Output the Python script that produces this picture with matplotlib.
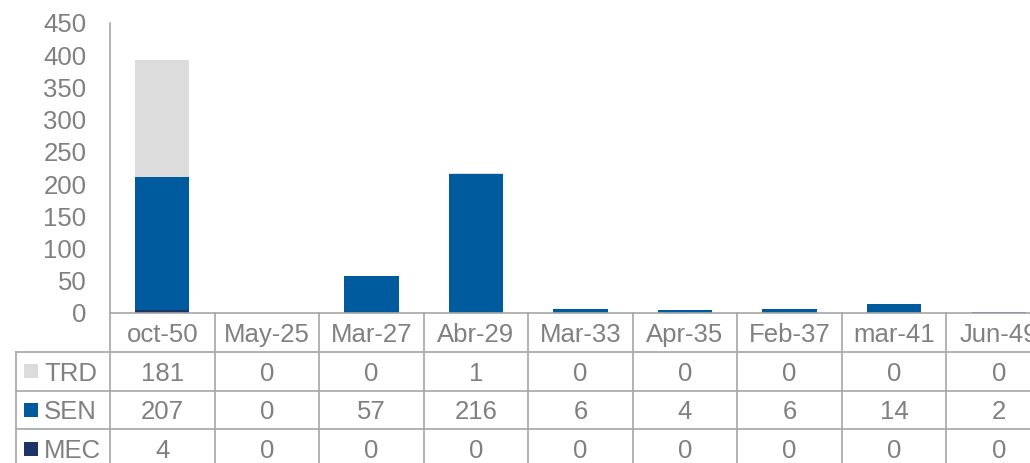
import matplotlib.pyplot as plt
from matplotlib.patches import Rectangle
from matplotlib.lines import Line2D
from matplotlib.transforms import Affine2D, blended_transform_factory

# data
categories = ['oct-50', 'May-25', 'Mar-27', 'Abr-29', 'Mar-33', 'Apr-35', 'Feb-37', 'mar-41', 'Jun-49']
trd = [181, 0, 0, 1, 0, 0, 0, 0, 0]
sen = [207, 0, 57, 216, 6, 4, 6, 14, 2]
mec = [4, 0, 0, 0, 0, 0, 0, 0, 0]
series = [('TRD', trd), ('SEN', sen), ('MEC', mec)]
colors = {'TRD': '#DCDCDC', 'SEN': '#005A9E', 'MEC': '#1C3466'}
yticks = [0, 50, 100, 150, 200, 250, 300, 350, 400, 450]

plt.rcParams['font.family'] = ['Liberation Sans', 'DejaVu Sans']
txt_col = '#808080'
line_col = '#A6A6A6'
fs = 18.5

W, H = 1030, 463
fig = plt.figure(figsize=(W / 100, H / 100), dpi=100)
ax = fig.add_axes([110 / W, 1 - 313 / H, 941 / W, 290 / H])

x = list(range(len(categories)))
bw = 0.52
# stacked bottom to top: MEC, SEN, TRD
ax.bar(x, mec, bw, color=colors['MEC'])
ax.bar(x, sen, bw, bottom=mec, color=colors['SEN'])
base = [a + b for a, b in zip(mec, sen)]
ax.bar(x, trd, bw, bottom=base, color=colors['TRD'])

ax.set_xlim(-0.5, len(categories) - 0.5)
ax.set_ylim(0, 450)
ax.set_yticks(yticks)
ax.set_xticks([])
ax.tick_params(axis='y', length=0, pad=17, labelsize=fs, labelcolor=txt_col)
for s in ['top', 'right']:
    ax.spines[s].set_visible(False)
for s in ['left', 'bottom']:
    ax.spines[s].set_color(line_col)
    ax.spines[s].set_linewidth(1.2)

# pixel coords measured from the top-left corner of the figure
pix = Affine2D().scale(1 / W, -1 / H).translate(0, 1) + fig.transFigure
colpix = blended_transform_factory(ax.transData, pix)

row_top = [313, 351.7, 390.5, 429.3, 468]

# table grid
for k in range(len(categories) + 1):
    fig.add_artist(Line2D([k - 0.5, k - 0.5], [313, 470], transform=colpix,
                          color=line_col, lw=1.2, clip_on=False))
fig.add_artist(Line2D([16, 16], [row_top[1], 470], transform=pix,
                      color=line_col, lw=1.2, clip_on=False))
for y in row_top[1:4]:
    fig.add_artist(Line2D([16, 1040], [y, y], transform=pix,
                          color=line_col, lw=1.2, clip_on=False))

# header row
hy = (row_top[0] + row_top[1]) / 2
for i, c in enumerate(categories):
    fig.text(i, hy, c, transform=colpix, ha='center', va='center_baseline',
             fontsize=fs, color=txt_col)

# data rows
for r, (name, vals) in enumerate(series):
    cy = (row_top[r + 1] + row_top[r + 2]) / 2
    fig.add_artist(Rectangle((24, cy - 7), 14, 14, transform=pix,
                             color=colors[name], lw=0))
    fig.text(44, cy, name, transform=pix, ha='left', va='center_baseline',
             fontsize=fs, color=txt_col)
    for i, v in enumerate(vals):
        fig.text(i, cy, str(v), transform=colpix, ha='center',
                 va='center_baseline', fontsize=fs, color=txt_col)

fig.savefig('out.png', dpi=100)
